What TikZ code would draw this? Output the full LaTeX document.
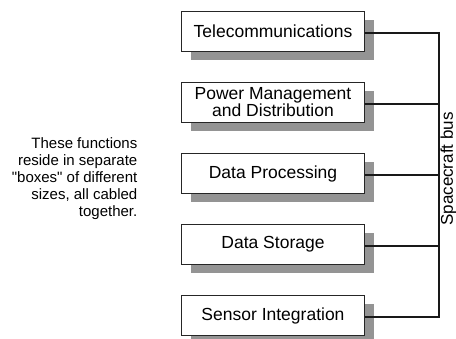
\documentclass[tikz,border=0pt]{standalone}
\usepackage{fontspec}
\setmainfont{Liberation Sans}[Ligatures=TeXOff]
\usetikzlibrary{shadows}
\begin{document}
\begin{tikzpicture}[x=1pt,y=-1pt,
  unitbox/.style={draw=black!85, line width=0.9pt, fill=white, minimum width=183pt, minimum height=40pt,
    inner sep=0pt, align=center, font=\fontsize{17.5}{17}\selectfont,
    drop shadow={shadow xshift=9pt, shadow yshift=-9pt, fill=black!42, opacity=1}},
  cable/.style={line width=2pt, black!90}]
\useasboundingbox (0,0) rectangle (456,339);
\node[unitbox] (tele) at (273,31.5) {Telecommunications};
\node[unitbox] (power) at (273,102.5) {Power Management\\and Distribution};
\node[unitbox] (proc) at (273,173.5) {Data Processing};
\node[unitbox] (stor) at (273,244.5) {Data Storage};
\node[unitbox] (sens) at (273,315.5) {Sensor Integration};
\coordinate (bus) at (439,0);
\foreach \n in {tele,power,proc,stor,sens}
  \draw[cable] ([yshift=-1.5pt]\n.east) -- ([yshift=-1.5pt]\n.east -| bus);
\draw[cable] ([yshift=-0.5pt]tele.east -| bus) -- ([yshift=-2.5pt]sens.east -| bus);
\node[rotate=90, font=\fontsize{17}{18}\selectfont, inner sep=0pt] (buslabel) at (448.5,169) {Spacecraft bus};
\node[align=right, anchor=east, font=\fontsize{15}{17}\selectfont, inner sep=0pt] (note) at (137.5,179)
  {These functions\\reside in separate\\"boxes" of different\\sizes, all cabled\\together.};
\end{tikzpicture}
\end{document}
